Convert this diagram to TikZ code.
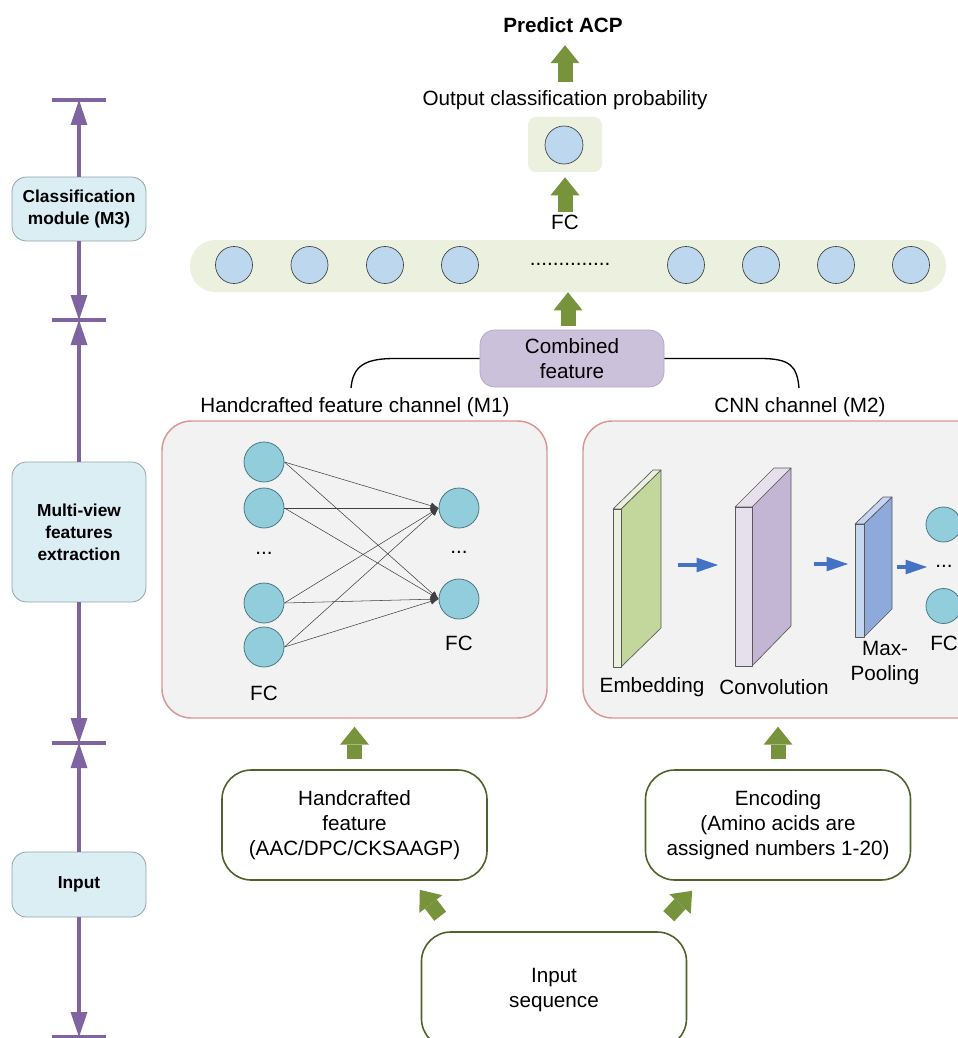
\documentclass[tikz,border=0pt]{standalone}
\usepackage{fontspec}
\setmainfont{Liberation Sans}
\usetikzlibrary{arrows.meta,calc,positioning}
\definecolor{agreen}{HTML}{77933C}
\definecolor{vpurple}{HTML}{8064A2}
\definecolor{sidefill}{HTML}{DAEEF3}
\definecolor{sideedge}{HTML}{93A3AA}
\definecolor{bandfill}{HTML}{EBF1DE}
\definecolor{ucirc}{HTML}{BDD7EE}
\definecolor{ncirc}{HTML}{92CDDC}
\definecolor{ncircedge}{HTML}{4A7A86}
\definecolor{chanfill}{HTML}{F2F2F2}
\definecolor{chanedge}{HTML}{D99694}
\definecolor{combfill}{HTML}{CCC1DA}
\definecolor{combedge}{HTML}{B3A2C7}
\definecolor{lowedge}{HTML}{4F6228}
\definecolor{barrow}{HTML}{4472C4}
\definecolor{embF}{HTML}{EBF1DE}
\definecolor{embS}{HTML}{C3D69B}
\definecolor{convF}{HTML}{E5E0EC}
\definecolor{convS}{HTML}{C3B6D4}
\definecolor{poolF}{HTML}{C6D5F0}
\definecolor{poolS}{HTML}{8EAADB}
\tikzset{
  txt/.style={font=\fontsize{15.5}{18.75}\selectfont, align=center, inner sep=0pt},
  sidebox/.style={draw=sideedge, line width=0.6pt, fill=sidefill, rounded corners=11pt, minimum width=100.5pt, align=center, font=\bfseries\fontsize{13}{16.5}\selectfont},
  garrow/.style={draw=agreen, line width=11.25pt, -{Triangle[length=13.5pt,width=21.75pt,line width=0pt]}},
  vline/.style={draw=vpurple, line width=3pt, -{Triangle[length=18.75pt,width=12.75pt,line width=0pt]}},
  bar/.style={draw=vpurple, line width=3pt},
  ucircle/.style={circle, draw=black!75, line width=0.5pt, fill=ucirc, minimum size=27.75pt, inner sep=0pt},
  ncircle/.style={circle, draw=ncircedge, line width=0.6pt, fill=ncirc, minimum size=30pt, inner sep=0pt},
  chanbox/.style={draw=chanedge, line width=1.1pt, fill=chanfill, rounded corners=22pt, minimum height=222.75pt},
  lowbox/.style={txt, draw=lowedge, line width=1.2pt, fill=white, rounded corners=22pt, minimum width=198.75pt},
  nnline/.style={draw=black!75, line width=0.4pt, -{Latex[length=6pt,width=5pt]}},
  barrowst/.style={draw=barrow, line width=3pt, -{Triangle[length=16pt,width=11pt,line width=0pt]}},
  slab/.style={draw=black!65, line width=0.5pt, line join=round},
}
\begin{document}
\begin{tikzpicture}[x=0.75pt,y=-0.75pt]
\useasboundingbox (0,0) rectangle (957,1038);

\node[sidebox, minimum height=48pt] (m3) at (79,209) {Classification\\module (M3)};
\node[sidebox, minimum height=105pt] (mv) at (79,532) {Multi-view\\features\\extraction};
\node[sidebox, minimum height=48.75pt] (inp) at (79,884.5) {Input};
\foreach \n/\y in {t1/100,t2/320,t3/743,t4/1037}{
  \coordinate (\n) at (79,\y);
  \draw[bar] ($(\n)+(-27,0)$) -- ($(\n)+(27,0)$);
}
\draw[vline] (m3.north) -- (t1);
\draw[vline] (m3.south) -- (t2);
\draw[vline] (mv.north) -- (t2);
\draw[vline] (mv.south) -- (t3);
\draw[vline] (inp.north) -- (t3);
\draw[vline] (inp.south) -- (t4);

\node[txt, font=\bfseries\fontsize{15.5}{18.75}\selectfont] (pred) at (563,25.5) {Predict ACP};
\node[txt] (outp) at (565,100) {Output classification probability};
\node[fill=bandfill, rounded corners=6pt, minimum width=55.5pt, minimum height=41.25pt] (probbox) at (565,144.5) {};
\node[ucircle, minimum size=28.5pt] (probc) at (564,145) {};
\node[txt] (fc3) at (565,222) {FC};
\node[fill=bandfill, rounded corners=19pt, minimum width=567pt, minimum height=39pt] (band) at (568,266) {};
\foreach \x [count=\i] in {234,309.5,385,460,686,761,836,911}
  \node[ucircle] (u\i) at (\x,265) {};
\node[txt] (udots) at (570,264) {..............};
\node[txt, draw=combedge, line width=0.5pt, fill=combfill, rounded corners=11pt, minimum width=138pt, minimum height=42.75pt] (comb) at (572,358.5) {Combined\\feature};
\draw[garrow, shorten <=6.2pt, shorten >=8.9pt] (outp.north) -- (outp.north |- pred.south);
\draw[garrow, shorten <=2pt, shorten >=3.75pt] (fc3.north) -- (fc3.north |- probbox.south);
\draw[garrow, shorten <=3pt] (band.south |- comb.north) -- (band.south);

\coordinate (brL) at (351,388);
\coordinate (brR) at (799,388);
\draw[line width=1pt] (comb.west) -- ++(-85,0) .. controls +(-30,0) and +(2,-22) .. (brL);
\draw[line width=1pt] (comb.east) -- ++(96,0) .. controls +(30,0) and +(-2,-22) .. (brR);
\node[txt] (m1lbl) at (355,407) {Handcrafted feature channel (M1)};
\node[txt] (m2lbl) at (800,407) {CNN channel (M2)};

\node[chanbox, minimum width=288.75pt] (m1) at (354.5,569.5) {};
\foreach \y [count=\i] in {462,508,603,647}
  \node[ncircle] (a\i) at (264,\y) {};
\foreach \y [count=\i] in {508,599}
  \node[ncircle] (b\i) at (459,\y) {};
\foreach \i in {1,...,4}
  \foreach \j in {1,2}
    \draw[nnline] (a\i.east) -- (b\j.west);
\node[txt] (adots) at (264,553) {...};
\node[txt] (bdots) at (459,552) {...};
\node[txt] (afc) at (264,693) {FC};
\node[txt] (bfc) at (459,643) {FC};

\node[chanbox, minimum width=305.25pt] (m2) at (786.5,569.5) {};
\foreach \fl/\fr/\br/\ft/\fb/\bt/\bb/\cf/\cs in {613/621/661/509/667/470/628/embF/embS, 735/752/791/507/666/468/626/convF/convS, 855/864/892/524/637/497/609/poolF/poolS}{
  \filldraw[slab, fill=\cs] (\fr,\ft) -- (\br,\bt) -- (\br,\bb) -- (\fr,\fb) -- cycle;
  \filldraw[slab, fill=\cf] (\fl,\ft) -- ({\fl+\br-\fr},\bt) -- (\br,\bt) -- (\fr,\ft) -- cycle;
  \filldraw[slab, fill=\cf] (\fl,\ft) rectangle (\fr,\fb);
}
\foreach \n/\xa/\xb/\y in {1/678/718/565, 2/814/848/564, 3/897/927/567}{
  \coordinate (p\n) at (\xa,\y);
  \coordinate (q\n) at (\xb,\y);
  \draw[barrowst] (p\n) -- (q\n);
}
\node[ncircle, minimum size=26.25pt] (c1) at (943.5,524.5) {};
\node[ncircle, minimum size=26.25pt] (c2) at (943.5,606) {};
\node[txt] (cdots) at (944,566) {...};
\node[txt, anchor=west] (cfc) at (930,643) {FC};
\node[txt] (emb) at (652,687) {Embedding};
\node[txt] (conv) at (774,687) {Convolution};
\node[txt] (pool) at (885,663) {Max-\\Pooling};

\node[lowbox, minimum height=82.5pt] (hand) at (354.5,825) {Handcrafted\\feature\\(AAC/DPC/CKSAAGP)};
\node[lowbox, minimum height=82.5pt] (enc) at (778,825) {Encoding\\(Amino acids are\\assigned numbers 1-20)};
\node[lowbox, minimum height=87pt] (inseq) at (554,990) {Input\\sequence};
\draw[garrow, shorten <=7.5pt, shorten >=6pt] (hand.north) -- (hand.north |- m1.south);
\draw[garrow, shorten <=7.5pt, shorten >=6pt] (enc.north) -- (enc.north |- m2.south);
\draw[garrow] ($(inseq.north west)+(19.5,-15)$) -- ($(hand.south east)+(-68,9)$);
\draw[garrow] ($(inseq.north east)+(-18.5,-15)$) -- ($(enc.south west)+(47.5,10)$);
\end{tikzpicture}
\end{document}
